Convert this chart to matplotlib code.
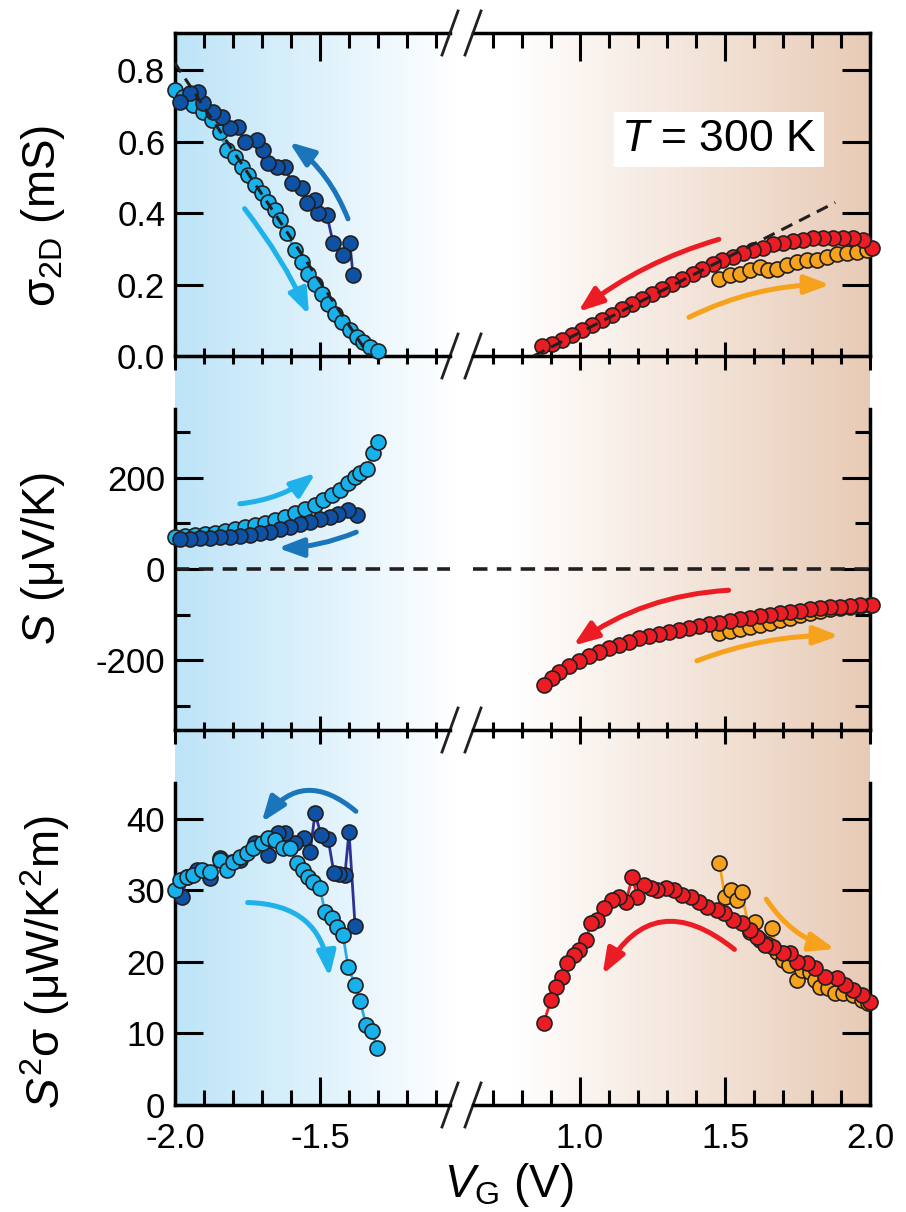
import numpy as np
import matplotlib
matplotlib.use('Agg')
import matplotlib.pyplot as plt
from matplotlib.patches import FancyArrowPatch
from matplotlib.ticker import MultipleLocator, FormatStrFormatter
from matplotlib.colors import to_rgb

plt.rcParams['font.family'] = ['Liberation Sans', 'DejaVu Sans']
plt.rcParams['mathtext.fontset'] = 'custom'
plt.rcParams['mathtext.rm'] = 'Liberation Sans'
plt.rcParams['mathtext.it'] = 'Liberation Sans:italic'
plt.rcParams['axes.unicode_minus'] = False

# ---------------- data ----------------
# panel 1: conductivity (mS)
lb_v1 = [-2.0, -1.972, -1.938, -1.903, -1.872, -1.845, -1.821, -1.793, -1.769, -1.748,
         -1.724, -1.700, -1.679, -1.655, -1.638, -1.614, -1.586, -1.562, -1.541, -1.517,
         -1.493, -1.472, -1.448, -1.424, -1.397, -1.372, -1.352, -1.328, -1.300]
lb_s1 = [0.745, 0.725, 0.703, 0.683, 0.660, 0.627, 0.577, 0.557, 0.529, 0.506,
         0.478, 0.456, 0.431, 0.408, 0.380, 0.344, 0.296, 0.262, 0.231, 0.203,
         0.175, 0.147, 0.119, 0.094, 0.072, 0.052, 0.038, 0.024, 0.015]
db_v1 = [-1.386, -1.397, -1.421, -1.455, -1.476, -1.507, -1.517, -1.545, -1.562, -1.597,
         -1.621, -1.648, -1.679, -1.697, -1.717, -1.759, -1.783, -1.810, -1.838, -1.869,
         -1.903, -1.921, -1.948, -1.983]
db_s1 = [0.226, 0.316, 0.282, 0.318, 0.394, 0.400, 0.436, 0.428, 0.470, 0.484,
         0.529, 0.529, 0.540, 0.577, 0.604, 0.599, 0.641, 0.638, 0.669, 0.683,
         0.708, 0.739, 0.736, 0.711]
rd_v1 = [2.007, 1.976, 1.941, 1.907, 1.872, 1.837, 1.803, 1.768, 1.734, 1.699,
         1.664, 1.630, 1.595, 1.561, 1.526, 1.491, 1.457, 1.422, 1.388, 1.353,
         1.318, 1.284, 1.249, 1.215, 1.180, 1.145, 1.111, 1.076, 1.042, 1.007,
         0.972, 0.938, 0.903, 0.869]
rd_s1 = [0.304, 0.324, 0.330, 0.332, 0.332, 0.332, 0.330, 0.324, 0.321, 0.318,
         0.313, 0.304, 0.296, 0.288, 0.276, 0.268, 0.257, 0.245, 0.231, 0.217,
         0.203, 0.189, 0.175, 0.161, 0.147, 0.133, 0.116, 0.100, 0.086, 0.072,
         0.058, 0.046, 0.035, 0.027]
or_v1 = [1.481, 1.516, 1.550, 1.585, 1.619, 1.647, 1.678, 1.713, 1.747, 1.782,
         1.817, 1.851, 1.886, 1.920, 1.955, 1.990]
or_s1 = [0.217, 0.226, 0.231, 0.240, 0.248, 0.240, 0.243, 0.254, 0.262, 0.268,
         0.268, 0.276, 0.285, 0.288, 0.290, 0.296]
fit_left = ([-2.0, -1.33], [0.82, 0.0])
fit_right = ([0.84, 1.88], [0.0, 0.43])

# panel 2: Seebeck coefficient (uV/K)
lb_v2 = [-2.0, -1.966, -1.931, -1.897, -1.862, -1.828, -1.793, -1.759, -1.724, -1.690,
         -1.655, -1.621, -1.586, -1.552, -1.517, -1.490, -1.459, -1.431, -1.403, -1.379,
         -1.362, -1.338, -1.317, -1.300]
lb_S2 = [70, 72, 74, 77, 79, 83, 87, 92, 96, 100,
         107, 114, 122, 131, 140, 151, 162, 173, 188, 201,
         210, 219, 254, 278]
db_v2 = [-1.372, -1.403, -1.438, -1.466, -1.500, -1.534, -1.569, -1.603, -1.638, -1.672,
         -1.707, -1.741, -1.776, -1.810, -1.845, -1.879, -1.914, -1.948, -1.983]
db_S2 = [118, 129, 120, 114, 109, 103, 98, 92, 87, 81,
         79, 74, 72, 70, 70, 68, 68, 66, 66]
rd_v2 = [2.007, 1.965, 1.931, 1.896, 1.862, 1.827, 1.792, 1.758, 1.723, 1.689,
         1.654, 1.619, 1.585, 1.550, 1.516, 1.481, 1.446, 1.412, 1.377, 1.343,
         1.308, 1.273, 1.239, 1.204, 1.170, 1.135, 1.100, 1.066, 1.031, 0.997,
         0.962, 0.927, 0.903, 0.875]
rd_S2 = [-79, -79, -81, -83, -83, -85, -87, -92, -94, -96,
         -101, -103, -107, -109, -114, -118, -120, -125, -129, -133,
         -138, -142, -146, -151, -160, -166, -173, -181, -190, -201,
         -212, -225, -238, -254]
or_v2 = [1.481, 1.516, 1.550, 1.585, 1.619, 1.654, 1.689, 1.723, 1.758, 1.792,
         1.827, 1.862, 1.896, 1.931, 1.965, 2.0]
or_S2 = [-140, -136, -131, -127, -122, -118, -112, -107, -101, -96,
         -92, -88, -85, -83, -81, -79]

# panel 3: power factor (uW/K^2 m)
lb_v3 = [-2.0, -1.983, -1.959, -1.938, -1.907, -1.879, -1.845, -1.821, -1.800, -1.776,
         -1.752, -1.731, -1.700, -1.679, -1.655, -1.628, -1.603, -1.579, -1.559, -1.541,
         -1.524, -1.500, -1.483, -1.459, -1.441, -1.421, -1.403, -1.379, -1.362, -1.341,
         -1.321, -1.303]
lb_P3 = [30.1, 31.5, 31.9, 32.2, 32.9, 32.6, 34.3, 32.9, 34.0, 34.7,
         35.2, 35.9, 36.6, 37.3, 37.1, 35.9, 35.9, 33.8, 32.9, 31.9,
         31.2, 30.3, 27.0, 26.2, 24.9, 23.8, 19.3, 16.8, 14.5, 11.2,
         10.3, 8.0]
db_v3 = [-1.379, -1.400, -1.414, -1.434, -1.452, -1.472, -1.497, -1.517, -1.534, -1.555,
         -1.586, -1.621, -1.645, -1.679, -1.724, -1.776, -1.803, -1.845, -1.879, -1.924,
         -1.959, -1.976]
db_P3 = [25.0, 38.2, 32.2, 32.3, 32.4, 37.2, 37.8, 40.8, 35.4, 37.3,
         36.6, 38.0, 38.0, 35.0, 36.6, 34.3, 34.0, 34.5, 31.7, 32.9,
         31.9, 29.1]
rd_v3 = [2.0, 1.972, 1.941, 1.913, 1.886, 1.844, 1.810, 1.782, 1.747, 1.723,
         1.699, 1.664, 1.637, 1.609, 1.585, 1.557, 1.526, 1.498, 1.471, 1.439,
         1.412, 1.384, 1.353, 1.325, 1.298, 1.266, 1.246, 1.221, 1.197, 1.180,
         1.159, 1.135, 1.111, 1.083, 1.059, 1.038, 1.021, 0.997, 0.979, 0.955,
         0.938, 0.917, 0.900, 0.875]
rd_P3 = [14.4, 15.4, 16.1, 16.8, 17.8, 17.9, 19.2, 19.9, 20.0, 21.3,
         21.3, 22.1, 22.4, 23.5, 24.5, 25.5, 25.9, 26.9, 27.3, 27.7,
         28.3, 29.1, 29.4, 30.1, 30.3, 30.1, 30.3, 30.8, 29.1, 31.9,
         28.4, 29.1, 28.7, 27.6, 25.9, 25.5, 23.1, 21.7, 21.0, 19.9,
         17.9, 16.5, 14.7, 11.5]
or_v3 = [1.481, 1.500, 1.520, 1.540, 1.557, 1.585, 1.602, 1.619, 1.645, 1.661,
         1.680, 1.699, 1.720, 1.747, 1.765, 1.792, 1.810, 1.827, 1.855, 1.879,
         1.907, 1.941, 1.972, 1.993]
or_P3 = [33.8, 29.0, 30.0, 28.7, 29.8, 24.2, 25.6, 23.1, 22.5, 24.8,
         21.4, 20.3, 19.5, 17.5, 18.9, 18.6, 17.5, 16.5, 16.4, 15.7,
         15.7, 15.4, 14.7, 14.3]

# sweep-direction arrows: (tail, head, curvature)
arrows = {
    (0, 'L'): [((-1.40, 0.377), (-1.614, 0.604), 0.15, '#1b75bb'),
               ((-1.766, 0.419), (-1.534, 0.108), -0.06, '#1fb1ea')],
    (0, 'R'): [((1.488, 0.329), (0.986, 0.119), 0.10, '#ec1c24'),
               ((1.367, 0.105), (1.872, 0.200), -0.12, '#f7a21c')],
    (1, 'L'): [((-1.786, 142), (-1.507, 214), 0.15, '#1fb1ea'),
               ((-1.366, 83), (-1.655, 46), -0.10, '#1b75bb')],
    (1, 'R'): [((1.522, -46), (0.969, -171), 0.15, '#ec1c24'),
               ((1.394, -203), (1.903, -146), -0.10, '#f7a21c')],
    (2, 'L'): [((-1.369, 40.8), (-1.707, 39.2), 0.55, '#1b75bb'),
               ((-1.759, 28.3), (-1.466, 17.5), -0.45, '#1fb1ea')],
    (2, 'R'): [((1.540, 21.5), (1.073, 17.9), 0.6, '#ec1c24'),
               ((1.637, 29.1), (1.889, 21.7), 0.2, '#f7a21c')],
}

# ---------------- layout ----------------
W, H = 906, 1212
fig = plt.figure(figsize=(W / 100, H / 100), dpi=100)

def box(x0, y0, x1, y1):
    return [x0 / W, 1 - y1 / H, (x1 - x0) / W, (y1 - y0) / H]

XL0, XL1, XR0, XR1 = 175, 450, 473, 870
rows = [(33, 356), (409, 730), (783, 1105)]
ppv = 290.0
xlim_left = (-2.0, -2.0 + (XL1 - XL0) / ppv)
xlim_right = (2.0 - (XR1 - XR0) / ppv, 2.0)

# background colour gradient
bg = fig.add_axes(box(XL0, rows[0][0], XR1, rows[2][1]), zorder=0)
xs = np.linspace(XL0, XR1, 800)
blue = np.array(to_rgb('#bde4f8'))
tan = np.array(to_rgb('#e8cbb6'))
t = np.clip((455 - xs) / 280, 0, 1)[:, None]
u = np.clip((xs - 512) / 358, 0, 1)[:, None]
grad = 1 - t * (1 - blue) - u * (1 - tan)
bg.imshow(grad[None, :, :], aspect='auto', extent=[0, 1, 0, 1])
bg.axis('off')

ylims = [(0, 0.905), (-352, 350), (0, 45)]
ymaj = [0.2, 200, 10]
ymin = [None, 100, None]

LW = 2.5
ms_kw = dict(marker='o', ms=10.8, mec='#231f20', mew=1.2, lw=2, clip_on=False)

axes = {}
for i, (y0, y1) in enumerate(rows):
    axl = fig.add_axes(box(XL0, y0, XL1, y1), zorder=2)
    axr = fig.add_axes(box(XR0, y0, XR1, y1), zorder=2)
    axes[(i, 'L')] = axl
    axes[(i, 'R')] = axr
    for ax, xl in ((axl, xlim_left), (axr, xlim_right)):
        ax.set_facecolor('none')
        ax.set_xlim(*xl)
        ax.set_ylim(*ylims[i])
        ax.xaxis.set_major_locator(MultipleLocator(0.5))
        ax.xaxis.set_minor_locator(MultipleLocator(0.1))
        ax.yaxis.set_major_locator(MultipleLocator(ymaj[i]))
        if ymin[i]:
            ax.yaxis.set_minor_locator(MultipleLocator(ymin[i]))
        else:
            ax.yaxis.set_minor_locator(plt.NullLocator())
        ax.xaxis.set_major_formatter(FormatStrFormatter('%.1f'))
        for s in ax.spines.values():
            s.set_linewidth(LW)
        ax.spines['top'].set_visible(False)
        xdir = 'in' if i == 2 else 'inout'
        ax.tick_params(axis='x', which='major', direction=xdir, length=20, width=2.2,
                       labelsize=25, pad=12, top=False, labelbottom=(i == 2))
        ax.tick_params(axis='x', which='minor', direction=xdir, length=11, width=2.2,
                       top=False)
        ax.tick_params(axis='y', which='major', direction='in', length=20, width=2.2,
                       labelsize=25, pad=7)
        ax.tick_params(axis='y', which='minor', direction='in', length=11, width=2.2)
        if i == 0:
            sec = ax.secondary_xaxis('top')
            sec.xaxis.set_major_locator(MultipleLocator(0.5))
            sec.xaxis.set_minor_locator(MultipleLocator(0.1))
            sec.spines['top'].set_linewidth(LW)
            sec.tick_params(axis='x', which='major', direction='in', length=20, width=2.2,
                            labeltop=False)
            sec.tick_params(axis='x', which='minor', direction='in', length=11, width=2.2)
    axl.spines['right'].set_visible(False)
    axr.spines['left'].set_visible(False)
    axr.tick_params(axis='y', which='both', left=False, right=True, labelleft=False)
    if i == 0:
        axl.yaxis.set_major_formatter(FormatStrFormatter('%.1f'))

    # break marks on each horizontal spine
    ys = [0, 1] if i == 0 else [0]
    for yy in ys:
        for ax, xx in ((axl, 1), (axr, 0)):
            trans = ax.transAxes
            dx = 8 / (XL1 - XL0 if ax is axl else XR1 - XR0)
            dy = 22 / (y1 - y0)
            ax.plot([xx - dx, xx + dx], [yy - dy, yy + dy], transform=trans,
                    color='#231f20', lw=2.0, clip_on=False)

# ---------------- data ----------------
a = axes[(0, 'L')]
a.plot(lb_v1, lb_s1, color='#29abe2', mfc='#17b1ec', zorder=3, **ms_kw)
a.plot(db_v1, db_s1, color='#2e3192', mfc='#0d52a5', zorder=4, **ms_kw)
a.plot(*fit_left, color='#231f20', lw=2.2, dashes=(3.5, 2.5), zorder=5, clip_on=False)
a = axes[(0, 'R')]
a.plot(or_v1, or_s1, color='#f7a21c', mfc='#f7a21c', zorder=3, **ms_kw)
a.plot(rd_v1, rd_s1, color='#ec1c24', mfc='#ec1c24', zorder=4, **ms_kw)
a.plot(*fit_right, color='#231f20', lw=2.2, dashes=(4, 2.5), zorder=5)
a.text(1.48, 0.607, '$T$ = 300 K', fontsize=32, ha='center', va='center', zorder=6,
       bbox=dict(fc='white', ec='none', pad=5))

a = axes[(1, 'L')]
a.plot(lb_v2, lb_S2, color='#29abe2', mfc='#17b1ec', zorder=3, **ms_kw)
a.plot(db_v2, db_S2, color='#2e3192', mfc='#0d52a5', zorder=4, **ms_kw)
a = axes[(1, 'R')]
a.plot(or_v2, or_S2, color='#f7a21c', mfc='#f7a21c', zorder=3, **ms_kw)
a.plot(rd_v2, rd_S2, color='#ec1c24', mfc='#ec1c24', zorder=4, **ms_kw)
for k in ((1, 'L'), (1, 'R')):
    axes[k].axhline(0, color='#231f20', lw=2.6, dashes=(4, 2.6), zorder=2)

a = axes[(2, 'L')]
a.plot(db_v3, db_P3, color='#2e3192', mfc='#0d52a5', zorder=3, **ms_kw)
a.plot(lb_v3, lb_P3, color='#29abe2', mfc='#17b1ec', zorder=4, **ms_kw)
a = axes[(2, 'R')]
a.plot(or_v3, or_P3, color='#f7a21c', mfc='#f7a21c', zorder=3, **ms_kw)
a.plot(rd_v3, rd_P3, color='#ec1c24', mfc='#ec1c24', zorder=4, **ms_kw)

for key, lst in arrows.items():
    ax = axes[key]
    for tail, head, rad, col in lst:
        ax.add_patch(FancyArrowPatch(tail, head, connectionstyle=f'arc3,rad={rad}',
                                     arrowstyle='-|>,head_length=0.75,head_width=0.28',
                                     mutation_scale=20, lw=3.6, color=col,
                                     zorder=6, clip_on=False))

# ---------------- labels ----------------
fig.text(43 / W, 1 - 216 / H, 'σ$_{\\mathrm{2D}}$ (mS)', rotation=90, fontsize=33,
         ha='center', va='center')
fig.text(43 / W, 1 - 558 / H, '$S$ (μV/K)', rotation=90, fontsize=33,
         ha='center', va='center')
fig.text(45 / W, 1 - 962 / H, '$S^{\\mathrm{2}}$σ (μW/K$^{\\mathrm{2}}$m)', rotation=90,
         fontsize=33, ha='center', va='center')
fig.text(509 / W, 1 - 1185 / H, '$V_{\\mathrm{G}}$ (V)', fontsize=33,
         ha='center', va='center')

fig.savefig('out.png', dpi=100)
